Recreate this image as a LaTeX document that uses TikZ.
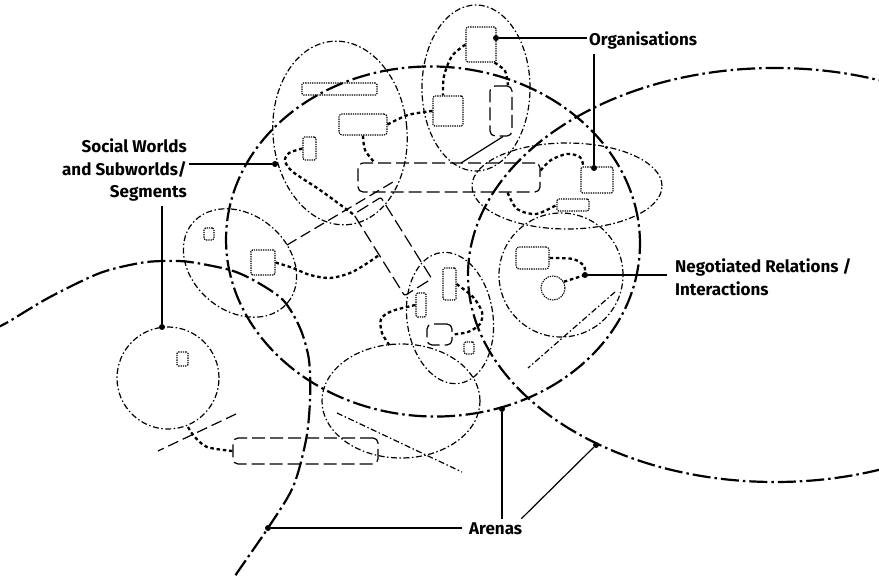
\documentclass[tikz,border=0pt]{standalone}
\usepackage{fontspec}
\setmainfont{Fira Sans}
\usetikzlibrary{calc,shapes.geometric}
\begin{document}
\begin{tikzpicture}[x=1pt,y=-1pt,
  arena/.style={line width=2.2pt, dash pattern=on 18pt off 4pt on 2.5pt off 4pt},
  world/.style={line width=1.2pt, dash pattern=on 6pt off 2.5pt on 1.5pt off 2.5pt},
  cutline/.style={line width=1.2pt, dash pattern=on 11pt off 5pt},
  segbox/.style={draw, line width=1.2pt, dash pattern=on 13pt off 5pt, rounded corners=5pt, inner sep=0pt},
  orgbox/.style={draw, line width=1.1pt, dash pattern=on 1.3pt off 1pt, rounded corners=1.5pt, inner sep=0pt},
  wh/.style 2 args={minimum width=#1pt, minimum height=#2pt},
  rel/.style={line width=2.3pt, dash pattern=on 3.5pt off 2.8pt},
  lead/.style={line width=1.2pt},
  dot/.style={circle, fill, inner sep=0pt, minimum size=6pt},
  lbl/.style={font=\bfseries\fontsize{17}{22.5}\selectfont, inner sep=2pt}]
\useasboundingbox (0,0) rectangle (879,577);
\fill[white] (0,0) rectangle (879,577);
\begin{scope}
\clip (0,0) rectangle (879,577);

% arenas
\draw[arena] (433,241.5) ellipse [x radius=207pt, y radius=175pt, rotate=-2];
\draw[arena] (775,275) ellipse [x radius=307pt, y radius=207pt];
\draw[arena] plot[smooth] coordinates {(-8,330) (8,322) (50,297) (100,273) (140,263) (165,261) (190,262) (230,270) (255,281) (283,300) (300,328) (309,360) (310,400) (306,440) (293,487) (268,528) (237,573) (232,582)};

% social worlds and subworlds
\draw[world] (340,133) ellipse [x radius=67pt, y radius=92pt, rotate=5];
\draw[world] (476,88) ellipse [x radius=54pt, y radius=83pt];
\draw[world] (567,186) ellipse [x radius=95pt, y radius=43pt];
\draw[world] (561,275) circle [radius=62pt];
\draw[world] (240,263) ellipse [x radius=62pt, y radius=48pt, rotate=-40];
\draw[world] (168,378) circle [radius=51pt];
\draw[world] (450,318) ellipse [x radius=43pt, y radius=66pt, rotate=8];
\draw[world] (401,401) ellipse [x radius=79pt, y radius=57pt];
\end{scope}

% segments
\node[segbox, wh={182}{29}] (s1) at (449,177.5) {};
\node[segbox, wh={22}{50}] (s2) at (501,111) {};
\node[segbox, wh={145}{26}] (s3) at (305.5,451) {};
\node[segbox, wh={25}{21}] (s4) at (439.5,334.5) {};
\node[segbox, wh={96}{32}, rounded corners=2pt, rotate=-58] (s5) at (392.75,246.5) {};

% organisations
\node[orgbox, wh={30}{35}] (o1) at (481,44.5) {};
\node[orgbox, wh={30}{30}] (o2) at (448,111) {};
\node[orgbox, wh={75}{12}] (o3) at (339.5,89) {};
\node[orgbox, wh={48}{21}, rounded corners=3pt] (o4) at (363,124.5) {};
\node[orgbox, wh={13}{23}] (o5) at (309.5,148.5) {};
\node[orgbox, wh={32}{26}] (o6) at (597,180) {};
\node[orgbox, wh={32}{12}] (o7) at (573,205) {};
\node[orgbox, wh={10}{12}] (o8) at (209,234) {};
\node[orgbox, wh={24}{25}] (o9) at (263,262.5) {};
\node[orgbox, wh={13}{32}] (o10) at (449.5,284) {};
\node[orgbox, wh={10}{24}] (o11) at (421,305) {};
\node[orgbox, wh={10}{12}] (o12) at (469,348) {};
\node[orgbox, wh={33}{22}, rounded corners=3pt] (o13) at (532.5,258) {};
\node[orgbox, circle, minimum size=24pt] (o14) at (553,288) {};
\node[orgbox, wh={11}{14}] (o15) at (182.5,359) {};

% cutting lines
\draw[lead] ($(s2.south)+(2,0)$) -- (461,163);
\draw[cutline] (287,245) -- (393,182);
\draw[world] (615,292) -- (528,368);
\draw[cutline] (236,414) -- (158,451);
\draw[world] (337,413) -- (462,472);

% dots
\node[dot] (dO1) at (496,38) {};
\node[dot] (dO6) at (594,168) {};
\node[dot] (dSW) at (275,164) {};
\node[dot] (dF) at (162,327) {};
\node[dot] (dN) at (585,275) {};
\node[dot] (dL) at (268,528) {};
\node[dot] (dM) at (502,409) {};
\node[dot] (dR) at (596,445) {};
\coordinate (hTop) at (390,346);
\coordinate (fBot) at (188,427);

% negotiated relations
\draw[rel] plot[smooth] coordinates {(o1.west) (452,56) (444,76) ($(o2.north)+(-5,0)$)};
\draw[rel] plot[smooth] coordinates {($(o1.south east)+(-2,0)$) (505,71) ($(s2.north)+(7,0)$)};
\draw[rel] plot[smooth] coordinates {(o4.east) (408,115) (o2.west)};
\draw[rel] plot[smooth] coordinates {(o4.south) (365,150) ($(s1.north west)+(17,0)$)};
\draw[rel] plot[smooth] coordinates {(o5.west) (289,153) (285,161) (293,172) (320,190) (s5.south west)};
\draw[rel] plot[smooth] coordinates {($(s1.east)+(0,-7)$) (551,160) (567,154) (580,157) ($(o6.north west)+(3,0)$)};
\draw[rel] plot[smooth] coordinates {($(s1.south east)+(-33,0)$) (517,209) (536,214) (o7.west)};
\draw[rel] plot[smooth] coordinates {(o13.east) (573,259) (584,266) (dN)};
\draw[rel] plot[smooth] coordinates {(o14.30) (dN)};
\draw[rel] plot[smooth] coordinates {(o9.east) (293,268) (310,275) (330,278) (350,273) (366,264) (s5.south)};
\draw[rel] plot[smooth] coordinates {(o11.west) (392,311) (381,319) (382,333) (hTop)};
\draw[rel] plot[smooth] coordinates {(o10.east) (473,297) (482,312) (480,324) (468,332) (s4.east)};
\draw[rel] plot[smooth] coordinates {(fBot) (194,436) (207,447) (s3.west)};

% labels
\node[lbl, anchor=west] (orgl) at (587,40) {Organisations};
\node[lbl, anchor=east, align=right] (swl) at (189,170) {Social Worlds\\and Subworlds/\\Segments};
\node[lbl, anchor=west, align=left] (negl) at (673,277) {Negotiated Relations /\\Interactions};
\node[lbl, anchor=west] (arl) at (467,529) {Arenas};

\draw[lead] (dO1) -- (dO1 -| orgl.west);
\draw[lead] (dO6) -- ($(dO6 |- orgl.south)+(0,3)$);
\draw[lead] (dSW) -- (dSW -| swl.east);
\draw[lead] (dF) -- ($(dF |- swl.south)+(0,3)$);
\draw[lead] (dN) -- ($(dN -| negl.west)+(-6,0)$);
\draw[lead] (dL) -- ($(dL -| arl.west)+(-5,0)$);
\draw[lead] (dM) -- ($(dM |- arl.north)+(0,-2)$);
\draw[lead] (dR) -- ($(arl.north east)+(-3,-2)$);
\end{tikzpicture}
\end{document}
